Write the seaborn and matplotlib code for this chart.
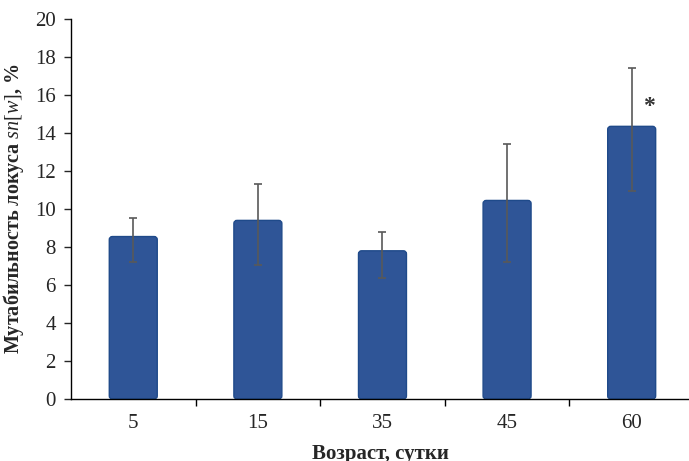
import numpy as np
import matplotlib.pyplot as plt
import seaborn as sns
import pandas as pd
from matplotlib.patches import FancyBboxPatch

ages = ["5", "15", "35", "45", "60"]
mutability = [8.55, 9.4, 7.8, 10.45, 14.35]
err_low = [7.2, 7.05, 6.35, 7.2, 10.95]
err_high = [9.5, 11.3, 8.8, 13.4, 17.4]
marked = ["60"]

sns.set_style("white")
plt.rcParams["font.family"] = ["Liberation Serif", "DejaVu Serif"]
plt.rcParams["mathtext.fontset"] = "custom"
plt.rcParams["mathtext.it"] = "Liberation Serif:italic"
plt.rcParams["mathtext.rm"] = "Liberation Serif"

df = pd.DataFrame({"age": ages, "value": mutability})

fig = plt.figure(figsize=(6.89, 4.61), dpi=100)
ax = fig.add_axes([0.103, 0.1345, 0.897, 0.8243])

sns.barplot(data=df, x="age", y="value", order=ages, color="#2F5597",
            saturation=1, width=0.385, edgecolor="#1F4A8A", linewidth=1,
            errorbar=None, ax=ax)

# rounded bar corners like the original
for p in list(ax.patches):
    x, y = p.get_x(), p.get_y()
    w, h = p.get_width(), p.get_height()
    rb = FancyBboxPatch((x, y), w, h, boxstyle="round,pad=0,rounding_size=0.025",
                        mutation_aspect=6.5, facecolor=p.get_facecolor(),
                        edgecolor="#1F4A8A", linewidth=1, zorder=p.get_zorder())
    p.remove()
    ax.add_patch(rb)

pos = np.arange(len(ages))
vals = np.array(mutability)
yerr = [vals - np.array(err_low), np.array(err_high) - vals]
ax.errorbar(pos, vals, yerr=yerr, fmt="none", ecolor="#595959",
            elinewidth=1.2, capsize=3, capthick=1.2, zorder=3)

for a in marked:
    i = ages.index(a)
    ax.text(i + 0.14, err_high[i] - 2.0, "*", fontsize=17, fontweight="bold",
            color="#333333", ha="center", va="center")

ax.set_xlim(-0.5, 4.46)
ax.set_ylim(0, 20)
ax.set_yticks(np.arange(0, 21, 2))
ax.set_xticks(pos)
ax.set_xticks(np.arange(0.5, 4, 1), minor=True)
ax.tick_params(axis="x", which="major", length=0, pad=11, labelsize=15, labelcolor="#262626")
ax.tick_params(axis="x", which="minor", length=5, width=1, direction="out", color="#000000", bottom=True)
ax.tick_params(axis="y", length=5, width=1, direction="out", left=True, labelsize=15,
               labelcolor="#262626", pad=6)

sns.despine(ax=ax)
for s in ["left", "bottom"]:
    ax.spines[s].set_color("#000000")
    ax.spines[s].set_linewidth(1)

ax.set_xlabel("Возраст, сутки", fontsize=15, fontweight="bold", color="#262626", labelpad=8)
ax.set_ylabel(r"Мутабильность локуса $\mathit{sn[w]}$, %", fontsize=14.5,
              fontweight="bold", color="#262626", labelpad=6)

fig.savefig("out.png", dpi=100)
